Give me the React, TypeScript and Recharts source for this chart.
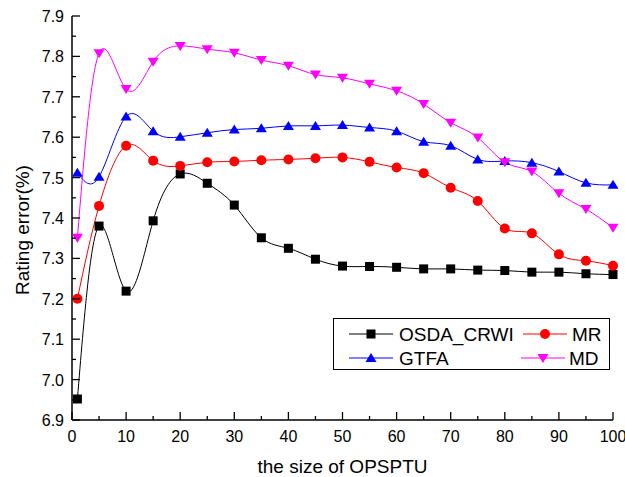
import { Line, LineChart, XAxis, YAxis } from "recharts";

const sizes = [1, 5, 10, 15, 20, 25, 30, 35, 40, 45, 50, 55, 60, 65, 70, 75, 80, 85, 90, 95, 100];
const osdaCrwi = [6.952, 7.38, 7.219, 7.393, 7.509, 7.486, 7.432, 7.351, 7.325, 7.298, 7.281, 7.28, 7.278, 7.274, 7.274, 7.271, 7.27, 7.266, 7.266, 7.262, 7.26];
const mr = [7.2, 7.43, 7.579, 7.542, 7.529, 7.538, 7.54, 7.543, 7.545, 7.548, 7.55, 7.539, 7.525, 7.511, 7.475, 7.442, 7.374, 7.362, 7.31, 7.294, 7.282];
const gtfa = [7.512, 7.502, 7.651, 7.615, 7.601, 7.611, 7.619, 7.622, 7.628, 7.628, 7.63, 7.624, 7.615, 7.589, 7.579, 7.545, 7.541, 7.537, 7.515, 7.487, 7.482];
const md = [7.351, 7.808, 7.719, 7.787, 7.826, 7.818, 7.809, 7.791, 7.777, 7.755, 7.747, 7.732, 7.715, 7.682, 7.636, 7.599, 7.538, 7.515, 7.461, 7.422, 7.376];

const xTicks = [0, 5, 10, 15, 20, 25, 30, 35, 40, 45, 50, 55, 60, 65, 70, 75, 80, 85, 90, 95, 100];
const yTicks = [6.9, 6.95, 7.0, 7.05, 7.1, 7.15, 7.2, 7.25, 7.3, 7.35, 7.4, 7.45, 7.5, 7.55, 7.6, 7.65, 7.7, 7.75, 7.8, 7.85, 7.9];

const data = sizes.map((s, i) => ({
  size: s,
  osda: osdaCrwi[i],
  mr: mr[i],
  gtfa: gtfa[i],
  md: md[i],
}));

const FONT = "Arial, 'Liberation Sans', sans-serif";

// marker shapes, shared by the lines and the legend
const marker = (kind: string, cx: number, cy: number, color: string) => {
  if (kind === "square")
    return <rect x={cx - 4.5} y={cy - 4.5} width={9} height={9} fill={color} />;
  if (kind === "circle") return <circle cx={cx} cy={cy} r={5} fill={color} />;
  if (kind === "up")
    return <path d={`M${cx},${cy - 5}L${cx + 5.5},${cy + 4}L${cx - 5.5},${cy + 4}Z`} fill={color} />;
  return <path d={`M${cx},${cy + 5}L${cx + 5.5},${cy - 4}L${cx - 5.5},${cy - 4}Z`} fill={color} />;
};

const dotFor = (kind: string, color: string) => (props: any) => {
  const { cx, cy, index } = props;
  if (cx == null || cy == null) return <g key={index} />;
  return <g key={index}>{marker(kind, cx, cy, color)}</g>;
};

const XTick = (props: any) => {
  const { x, y, payload } = props;
  const major = payload.value % 10 === 0;
  return (
    <g>
      <line x1={x} x2={x} y1={y} y2={y - (major ? 8 : 4)} stroke="#000" strokeWidth={1.3} />
      {major && (
        <text x={x} y={y + 22} textAnchor="middle" fontSize={16} fontFamily={FONT} fill="#000">
          {payload.value}
        </text>
      )}
    </g>
  );
};

const YTick = (props: any) => {
  const { x, y, payload, index } = props;
  const major = index % 2 === 0;
  return (
    <g>
      <line x1={x} x2={x + (major ? 8 : 4)} y1={y} y2={y} stroke="#000" strokeWidth={1.3} />
      {major && (
        <text x={x - 8} y={y + 6} textAnchor="end" fontSize={16} fontFamily={FONT} fill="#000">
          {payload.value.toFixed(1)}
        </text>
      )}
    </g>
  );
};

const legendItems = [
  { name: "OSDA_CRWI", color: "#000000", kind: "square", lx: 349, tx: 399, ty: 334 },
  { name: "MR", color: "#ff0000", kind: "circle", lx: 523, tx: 572, ty: 334 },
  { name: "GTFA", color: "#0000ff", kind: "up", lx: 349, tx: 399, ty: 358 },
  { name: "MD", color: "#ff00ff", kind: "down", lx: 521, tx: 569, ty: 358 },
];

export default function App() {
  return (
    <div style={{ position: "absolute", left: 0, top: 0, width: 625, height: 477, background: "#fff" }}>
      <LineChart
        width={625}
        height={477}
        data={data}
        margin={{ top: 16, right: 12, bottom: 0, left: 0 }}
      >
        <XAxis
          type="number"
          dataKey="size"
          domain={[0, 100]}
          ticks={xTicks}
          interval={0}
          height={57}
          tickSize={0}
          tickMargin={0}
          tickLine={false}
          tick={<XTick />}
          axisLine={{ stroke: "#000", strokeWidth: 1.5 }}
          label={{
            content: (p: any) => {
              const vb = p.viewBox;
              return (
                <text x={vb.x + vb.width / 2} y={vb.y + 53} textAnchor="middle" fontSize={19} fontFamily={FONT} fill="#000">
                  the size of OPSPTU
                </text>
              );
            },
          }}
        />
        <YAxis
          type="number"
          domain={[6.9, 7.9]}
          ticks={yTicks}
          interval={0}
          width={72}
          tickSize={0}
          tickMargin={0}
          tickLine={false}
          tick={<YTick />}
          allowDataOverflow
          axisLine={{ stroke: "#000", strokeWidth: 1.5 }}
          label={{
            content: (p: any) => {
              const vb = p.viewBox;
              const cy = vb.y + vb.height / 2 + 12;
              return (
                <text
                  transform={`translate(29,${cy}) rotate(-90)`}
                  textAnchor="middle"
                  fontSize={19}
                  fontFamily={FONT}
                  fill="#000"
                >
                  Rating error(%)
                </text>
              );
            },
          }}
        />
        <Line type="natural" dataKey="osda" stroke="#000000" strokeWidth={1} dot={dotFor("square", "#000000")} activeDot={false} isAnimationActive={false} />
        <Line type="natural" dataKey="mr" stroke="#ff0000" strokeWidth={1} dot={dotFor("circle", "#ff0000")} activeDot={false} isAnimationActive={false} />
        <Line type="natural" dataKey="gtfa" stroke="#0000ff" strokeWidth={1} dot={dotFor("up", "#0000ff")} activeDot={false} isAnimationActive={false} />
        <Line type="natural" dataKey="md" stroke="#ff00ff" strokeWidth={1} dot={dotFor("down", "#ff00ff")} activeDot={false} isAnimationActive={false} />
      </LineChart>
      <svg width={625} height={477} style={{ position: "absolute", left: 0, top: 0, pointerEvents: "none" }}>
        <rect x={333.5} y={318.5} width={276} height={51} fill="#fff" stroke="#000" strokeWidth={1} />
        {legendItems.map((it) => (
          <g key={it.name}>
            <line x1={it.lx} x2={it.lx + 44} y1={it.ty} y2={it.ty} stroke={it.color} strokeWidth={1} />
            {marker(it.kind, it.lx + 22, it.ty, it.color)}
            <text x={it.tx} y={it.ty + 7} fontSize={19} fontFamily={FONT} fill="#000">
              {it.name}
            </text>
          </g>
        ))}
      </svg>
    </div>
  );
}
